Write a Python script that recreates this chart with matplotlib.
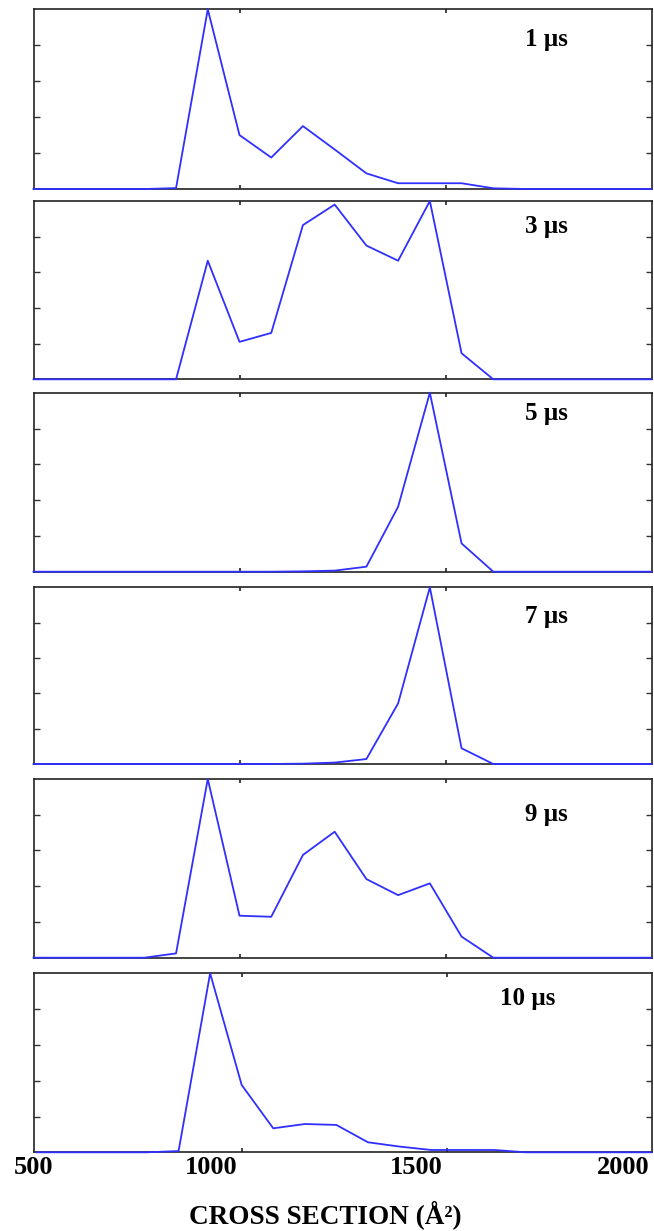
import matplotlib
matplotlib.use("Agg")
import matplotlib.pyplot as plt
from matplotlib.ticker import FixedLocator, NullFormatter

plt.rcParams['font.family'] = ['Liberation Serif', 'DejaVu Serif']

# Cross section grid (Å^2)
cross_section = [500, 769, 846, 923, 1000, 1077, 1154, 1231, 1308, 1385,
                 1462, 1539, 1616, 1693, 1770, 2000]

# Normalized intensity for each delay time
t_1us  = [0, 0, 0.005, 1.00, 0.30, 0.175, 0.35, 0.22, 0.087, 0.032, 0.032, 0.032, 0.004, 0, 0, 0]
t_3us  = [0, 0, 0, 0.665, 0.21, 0.26, 0.865, 0.98, 0.75, 0.665, 1.00, 0.146, 0, 0, 0, 0]
t_5us  = [0, 0, 0, 0, 0, 0, 0.002, 0.006, 0.028, 0.363, 1.00, 0.158, 0, 0, 0, 0]
t_7us  = [0, 0, 0, 0, 0, 0, 0.002, 0.008, 0.028, 0.343, 1.00, 0.089, 0, 0, 0, 0]
t_9us  = [0, 0, 0.024, 1.00, 0.235, 0.229, 0.575, 0.705, 0.44, 0.35, 0.416, 0.118, 0, 0, 0, 0]
t_10us = [0, 0, 0.007, 1.00, 0.376, 0.134, 0.158, 0.153, 0.056, 0.032, 0.013, 0.013, 0.013, 0, 0, 0]

series = [t_1us, t_3us, t_5us, t_7us, t_9us, t_10us]
panel_labels = ["1 \u00b5s", "3 \u00b5s", "5 \u00b5s", "7 \u00b5s", "9 \u00b5s", "10 \u00b5s"]

tick_marks = [1000, 1500]
tick_label_text = ["500", "1000", "1500", "2000"]
tick_label_pos = [492, 926, 1427, 1932]

W, H = 654, 1231
fig = plt.figure(figsize=(W / 100, H / 100), dpi=100)

# panel pixel extents (top, bottom)
panels_px = [(9.3, 189), (201, 379.3), (392.7, 571.7), (587.3, 764), (779, 957.7), (973.3, 1152.3)]
label_y = [0.83, 0.856, 0.885, 0.834, 0.80, 0.86]
label_x = [0.83, 0.83, 0.83, 0.83, 0.83, 0.80]
left_px, right_px = 33.5, 651.5

for i, (top, bot) in enumerate(panels_px):
    ax = fig.add_axes([left_px / W, 1 - bot / H, (right_px - left_px) / W, (bot - top) / H])
    ax.plot(cross_section, series[i], color='#2f2fff', lw=1.3, zorder=5, clip_on=False)
    ax.set_xlim(500, 2000)
    ax.set_ylim(0, 1)
    for sp in ax.spines.values():
        sp.set_color('#222222')
        sp.set_linewidth(1.2)
    ax.set_yticks([0.2, 0.4, 0.6, 0.8])
    ax.set_yticklabels([])
    ax.tick_params(axis='y', direction='in', left=True, right=True, length=4, width=1, color='#333333')
    ax.xaxis.set_minor_locator(FixedLocator(tick_marks))
    ax.xaxis.set_minor_formatter(NullFormatter())
    ax.tick_params(axis='x', which='minor', direction='in', top=True, bottom=True, length=3, width=1.2, color='#222222')
    if i == len(panels_px) - 1:
        ax.set_xticks(tick_label_pos)
        ax.set_xticklabels(tick_label_text, fontsize=19, fontweight='bold')
        ax.tick_params(axis='x', which='major', length=0, pad=3)
    else:
        ax.set_xticks([])
    ax.text(label_x[i], label_y[i], panel_labels[i], transform=ax.transAxes,
            ha='center', va='center', fontsize=18, fontweight='bold')

fig.text(0.497, 1 - 1215 / H, "CROSS SECTION (\u00c5\u00b2)", ha='center', va='center',
         fontsize=19.5, fontweight='bold')

fig.savefig("out.png", dpi=100)
